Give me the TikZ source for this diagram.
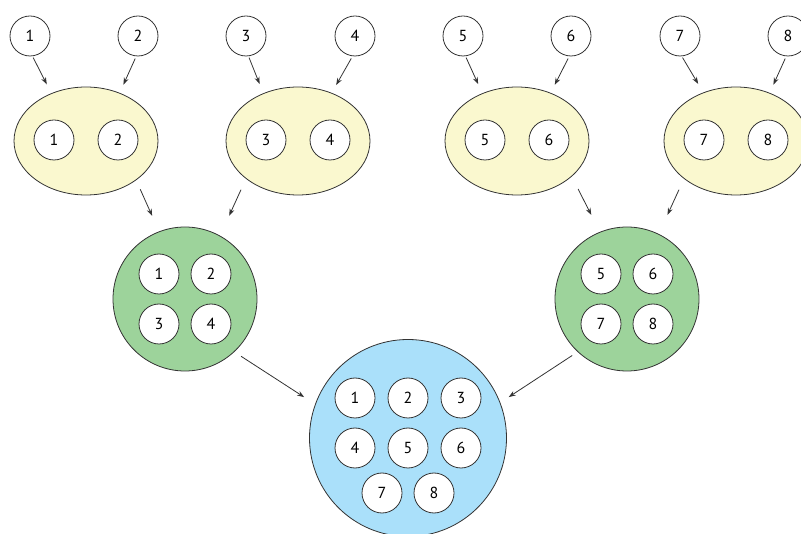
\documentclass[tikz,border=0pt]{standalone}
\usepackage{fontspec}
\setmainfont{PT Sans}
\usetikzlibrary{arrows.meta,shapes.geometric}
\definecolor{lineGray}{HTML}{333333}
\definecolor{pairFill}{HTML}{FAF8CF}
\definecolor{quadFill}{HTML}{9DD39B}
\definecolor{allFill}{HTML}{AAE0FA}
\begin{document}
\begin{tikzpicture}[x=1pt,y=-1pt,
  every node/.style={font=\fontsize{16}{19}\selectfont, text=black},
  ball/.style={circle,draw=lineGray,line width=0.8pt,fill=white,minimum size=40pt,inner sep=0pt},
  pair/.style={ellipse,draw=lineGray,line width=0.8pt,fill=pairFill,minimum width=144pt,minimum height=108pt,inner sep=0pt},
  quad/.style={circle,draw=lineGray,line width=0.8pt,fill=quadFill,minimum size=144pt,inner sep=0pt},
  whole/.style={circle,draw=lineGray,line width=0.8pt,fill=allFill,minimum size=197pt,inner sep=0pt},
  link/.style={draw=lineGray,line width=0.8pt,-{Stealth[length=7pt,width=5pt]}}]

\useasboundingbox (0,0) rectangle (801,534);
\clip (0,0) rectangle (801,534);

% single items
\node[ball] (t1) at (30,36) {1};
\node[ball] (t2) at (138,36) {2};
\node[ball] (t3) at (246,36) {3};
\node[ball] (t4) at (355,36) {4};
\node[ball] (t5) at (463,36) {5};
\node[ball] (t6) at (571,36) {6};
\node[ball] (t7) at (680,36) {7};
\node[ball] (t8) at (788,36) {8};

% pairs
\node[pair] (e1) at (86,141) {};
\node[pair] (e2) at (298,141) {};
\node[pair] (e3) at (517,141) {};
\node[pair] (e4) at (736,141) {};
\node[ball] (e1a) at (54,140) {1};
\node[ball] (e1b) at (118,140) {2};
\node[ball] (e2a) at (266,140) {3};
\node[ball] (e2b) at (330,140) {4};
\node[ball] (e3a) at (485,140) {5};
\node[ball] (e3b) at (549,140) {6};
\node[ball] (e4a) at (704,140) {7};
\node[ball] (e4b) at (768,140) {8};

% groups of four
\node[quad] (g1) at (185,299) {};
\node[quad] (g2) at (627,299) {};
\node[ball] (g1a) at (159,274) {1};
\node[ball] (g1b) at (211,274) {2};
\node[ball] (g1c) at (159,324) {3};
\node[ball] (g1d) at (211,324) {4};
\node[ball] (g2a) at (601,274) {5};
\node[ball] (g2b) at (653,274) {6};
\node[ball] (g2c) at (601,324) {7};
\node[ball] (g2d) at (653,324) {8};

% all eight
\node[whole] (all) at (408,438) {};
\node[ball] (a1) at (355,398) {1};
\node[ball] (a2) at (408,398) {2};
\node[ball] (a3) at (461,398) {3};
\node[ball] (a4) at (355,448) {4};
\node[ball] (a5) at (408,448) {5};
\node[ball] (a6) at (461,448) {6};
\node[ball] (a7) at (382,493) {7};
\node[ball] (a8) at (434,493) {8};

% singles into pairs
\draw[link,shorten <=1.5pt,shorten >=10pt] (t1.-83) -- (e1.126);
\draw[link,shorten <=2.5pt,shorten >=9pt] (t2.-95) -- (e1.55);
\draw[link,shorten <=1.5pt,shorten >=10pt] (t3.-83) -- (e2.126);
\draw[link,shorten <=2.5pt,shorten >=9pt] (t4.-97) -- (e2.55);
\draw[link,shorten <=1.5pt,shorten >=10pt] (t5.-83) -- (e3.126);
\draw[link,shorten <=2.5pt,shorten >=9pt] (t6.-95) -- (e3.55);
\draw[link,shorten <=1.5pt,shorten >=10pt] (t7.-85) -- (e4.124);
\draw[link,shorten <=2.5pt,shorten >=9pt] (t8.-95) -- (e4.55);

% pairs into fours
\draw[link,shorten <=10pt,shorten >=17pt] (e1.-38) -- (g1.111);
\draw[link,shorten <=12pt,shorten >=22pt] (e2.-144) -- (g1.61);
\draw[link,shorten <=14pt,shorten >=19pt] (e3.-33) -- (g2.112);
\draw[link,shorten <=12pt,shorten >=21pt] (e4.-144) -- (g2.64);

% fours into eight
\draw[link,shorten <=8pt,shorten >=13pt] (g1.-47) -- (all.160);
\draw[link,shorten <=6.5pt,shorten >=10pt] (g2.-133) -- (all.21);
\end{tikzpicture}
\end{document}
